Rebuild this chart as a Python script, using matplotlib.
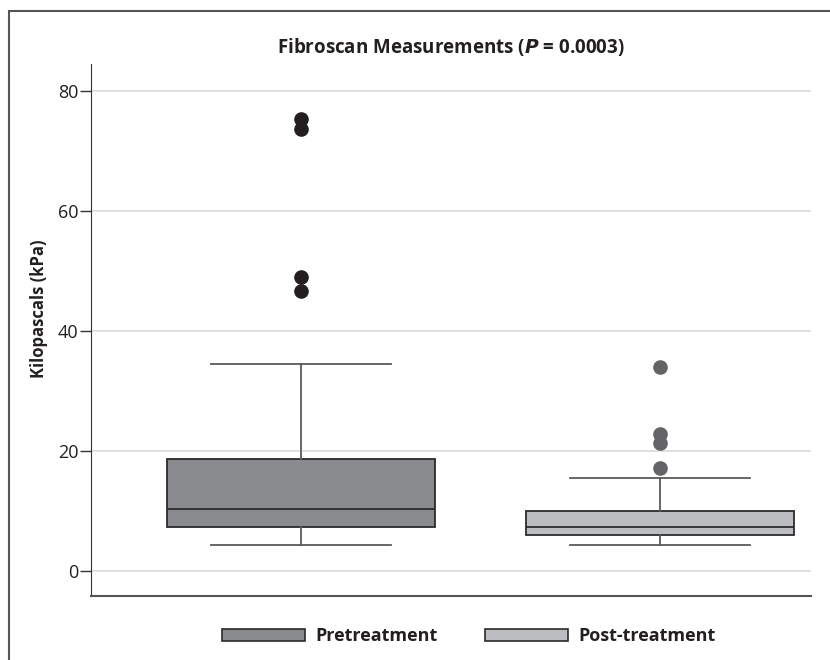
import matplotlib.pyplot as plt
from matplotlib.patches import Patch, Rectangle

plt.rcParams['font.family'] = ['Open Sans', 'DejaVu Sans']

# box summaries (kPa)
groups = ['Pretreatment', 'Post-treatment']
q1 = [7.3, 6.0]
medians = [10.3, 7.3]
q3 = [18.7, 10.0]
whisker_lo = [4.3, 4.3]
whisker_hi = [34.4, 15.5]
outliers_pre = [75.3, 73.7, 49.0, 46.7]
outliers_post = [33.9, 22.8, 21.3, 17.2]
fill_colors = ['#8a8b8e', '#bcbdc0']
dot_colors = ['#231f20', '#636466']
yticks = [0, 20, 40, 60, 80]

stats = []
for i, name in enumerate(groups):
    stats.append({'label': name, 'q1': q1[i], 'med': medians[i], 'q3': q3[i],
                  'whislo': whisker_lo[i], 'whishi': whisker_hi[i],
                  'fliers': [outliers_pre, outliers_post][i]})

fig = plt.figure(figsize=(8.3, 6.6), dpi=100)
ax = fig.add_axes([0.1096, 0.097, 0.8675, 0.806])

for i, s in enumerate(stats):
    bp = ax.bxp([s], positions=[i + 1], widths=0.747, capwidths=0.5,
                patch_artist=True, showfliers=True,
                boxprops=dict(facecolor=fill_colors[i], edgecolor='#2b2b2b', linewidth=1.3),
                medianprops=dict(color='#2b2b2b', linewidth=1.3),
                whiskerprops=dict(color='#5a5a5a', linewidth=1.3),
                capprops=dict(color='#5a5a5a', linewidth=1.3),
                flierprops=dict(marker='o', markerfacecolor=dot_colors[i],
                                markeredgecolor=dot_colors[i], markersize=9.5))

ax.set_xlim(0.415, 2.42)
ax.set_ylim(-4.2, 84.5)
ax.set_yticks(yticks)
ax.set_xticks([])
ax.yaxis.grid(True, color='#dddddd', linewidth=1.3)
ax.set_axisbelow(True)
for side in ['top', 'right']:
    ax.spines[side].set_visible(False)
ax.spines['left'].set_color('#333333')
ax.spines['bottom'].set_color('#555555')
ax.spines['bottom'].set_linewidth(1.5)
ax.tick_params(axis='y', length=8, width=1, color='#333333', labelsize=13,
               labelcolor='#231f20', pad=1)

ax.set_ylabel('Kilopascals (kPa)', fontsize=12, fontweight='bold',
              color='#231f20')
ax.yaxis.set_label_coords(-0.06, 0.54)
ax.set_title('Fibroscan Measurements ($\\bfit{P}$ = 0.0003)', fontsize=13.5,
             fontweight='bold', color='#231f20', pad=8)

handles = [Patch(facecolor=fill_colors[i], edgecolor='#2b2b2b', linewidth=1.2,
                 label=groups[i]) for i in range(2)]
leg = fig.legend(handles=handles, loc='center', bbox_to_anchor=(469 / 830, 1 - 636 / 660),
                 ncol=2, frameon=False, handlelength=4.6, handleheight=0.65,
                 handletextpad=0.6, columnspacing=2.6,
                 prop={'weight': 'bold', 'size': 13})
for t in leg.get_texts():
    t.set_color('#231f20')

# outer frame of the original figure panel
fig.patches.append(Rectangle((0.011, -0.1), 1.2, 1.083, transform=fig.transFigure,
                             fill=False, edgecolor='#555555', linewidth=1.5))

fig.savefig('out.png', dpi=100)
